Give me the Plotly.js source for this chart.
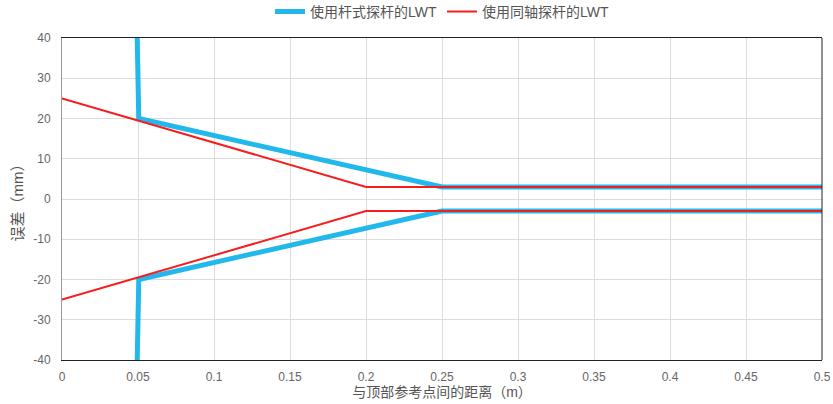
<!DOCTYPE html>
<html><head><meta charset="utf-8">
<script src="https://cdn.plot.ly/plotly-3.0.1.min.js"></script>
<style>html,body{margin:0;padding:0;background:#fff}#c{width:833px;height:404px}</style>
</head><body><div id="c"></div>
<script>
const seriesNames = ["使用杆式探杆的LWT", "使用同轴探杆的LWT"];
// Rod probe (upper and lower boundaries)
const rodUpperX = [0.0495, 0.0505, 0.25, 0.5];
const rodUpperY = [40, 20, 3, 3];
const rodLowerX = [0.0495, 0.0505, 0.25, 0.5];
const rodLowerY = [-40, -20, -3, -3];
// Coaxial probe (upper and lower boundaries)
const coaxUpperX = [0, 0.2, 0.5];
const coaxUpperY = [25, 3, 3];
const coaxLowerX = [0, 0.2, 0.5];
const coaxLowerY = [-25, -3, -3];
const xTicks = [0, 0.05, 0.1, 0.15, 0.2, 0.25, 0.3, 0.35, 0.4, 0.45, 0.5];
const xTickText = ["0", "0.05", "0.1", "0.15", "0.2", "0.25", "0.3", "0.35", "0.4", "0.45", "0.5"];
const yTicks = [-40, -30, -20, -10, 0, 10, 20, 30, 40];
const yTickText = ["-40", "-30", "-20", "-10", "0", "10", "20", "30", "40"];

const blue = "#22b8eb", red = "#f71d1d";
const font = "Liberation Sans, Arial, 'Noto Sans CJK SC', sans-serif";
const data = [
  {x: rodUpperX, y: rodUpperY, mode: "lines", name: seriesNames[0], line: {color: blue, width: 5}, legendgroup: "a"},
  {x: rodLowerX, y: rodLowerY, mode: "lines", name: seriesNames[0], line: {color: blue, width: 5}, legendgroup: "a", showlegend: false},
  {x: coaxUpperX, y: coaxUpperY, mode: "lines", name: seriesNames[1], line: {color: red, width: 2}, legendgroup: "b"},
  {x: coaxLowerX, y: coaxLowerY, mode: "lines", name: seriesNames[1], line: {color: red, width: 2}, legendgroup: "b", showlegend: false}
];
const layout = {
  width: 833, height: 404,
  margin: {l: 62, r: 11, t: 38, b: 44, autoexpand: false},
  paper_bgcolor: "#fff", plot_bgcolor: "#fff",
  font: {family: font, size: 12, color: "#666"},
  showlegend: true,
  legend: {orientation: "h", x: 0.5, xanchor: "center", y: 1.081, yanchor: "middle", xref: "paper",
           font: {size: 14, color: "#555"}, itemwidth: 30, tracegroupgap: 0, bgcolor: "rgba(0,0,0,0)"},
  xaxis: {range: [0, 0.5], tickvals: xTicks, ticktext: xTickText, showgrid: true, gridcolor: "#dcdcdc",
          zeroline: false, showline: true, linecolor: "#222", linewidth: 1, mirror: true, ticks: "",
          ticklabelstandoff: 6, tickfont: {size: 12, color: "#666"}, automargin: false,
          title: {text: "与顶部参考点间的距离（m）", font: {size: 14, color: "#555"}, standoff: 2}},
  yaxis: {range: [-40, 40], tickvals: yTicks, ticktext: yTickText, showgrid: true, gridcolor: "#dcdcdc", zeroline: false,
          showline: true, linecolor: "#999", linewidth: 1, ticks: "", ticklabelstandoff: 8, automargin: false,
          tickfont: {size: 12, color: "#666"},
          title: {text: "误差（mm）", font: {size: 15, color: "#555"}, standoff: 6}},
  shapes: [{type: "line", xref: "paper", yref: "paper", x0: 1, x1: 1, y0: 0, y1: 1, line: {color: "#222", width: 1}}]
};
Plotly.newPlot("c", data, layout, {displayModeBar: false, staticPlot: true});
</script></body></html>
